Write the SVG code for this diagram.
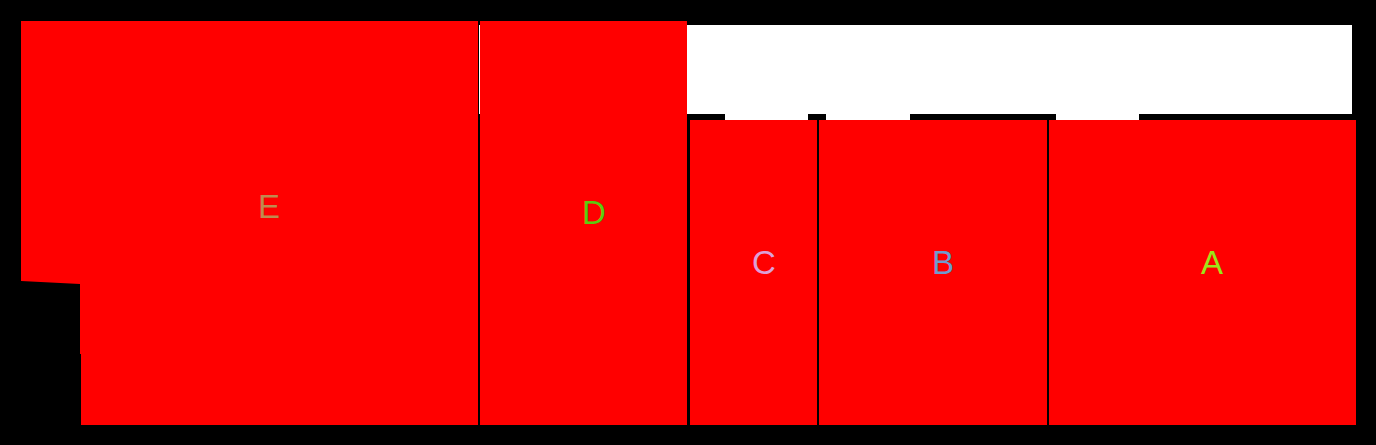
<svg xmlns="http://www.w3.org/2000/svg" width="1376" height="445" viewBox="0 0 1376 445">
<style>
.room{fill:#ff0000;stroke:none}
.lbl{font-family:"Liberation Sans",Arial,sans-serif;font-size:33px;text-anchor:middle}
</style>
<rect x="0" y="0" width="1376" height="445" fill="#000000"/>
<g id="open-area">
<rect x="687" y="25" width="665" height="89" fill="#ffffff"/>
<rect x="479" y="25" width="1" height="89" fill="#ffffff"/>
<rect x="725" y="114" width="83" height="6" fill="#ffffff"/>
<rect x="826" y="114" width="84" height="6" fill="#ffffff"/>
<rect x="1056" y="114" width="83" height="6" fill="#ffffff"/>
</g>
<g id="E">
<polygon class="room" points="21,21 478,21 478,425 81,425 81,354 80,354 80,284 21,281"/>
<text class="lbl" x="269" y="218" fill="#c08a50">E</text>
</g>
<g id="D">
<rect class="room" x="480" y="21" width="207" height="404"/>
<text class="lbl" x="594" y="224" fill="#5acc10">D</text>
</g>
<g id="C">
<rect class="room" x="690" y="120" width="127" height="305"/>
<text class="lbl" x="764" y="274" fill="#dca0d8">C</text>
</g>
<g id="B">
<rect class="room" x="819" y="120" width="228" height="305"/>
<text class="lbl" x="943" y="274" fill="#6f9bcf">B</text>
</g>
<g id="A">
<rect class="room" x="1049" y="120" width="307" height="305"/>
<text class="lbl" x="1212" y="274" fill="#9be61a">A</text>
</g>
<g id="connectors"></g>
</svg>
